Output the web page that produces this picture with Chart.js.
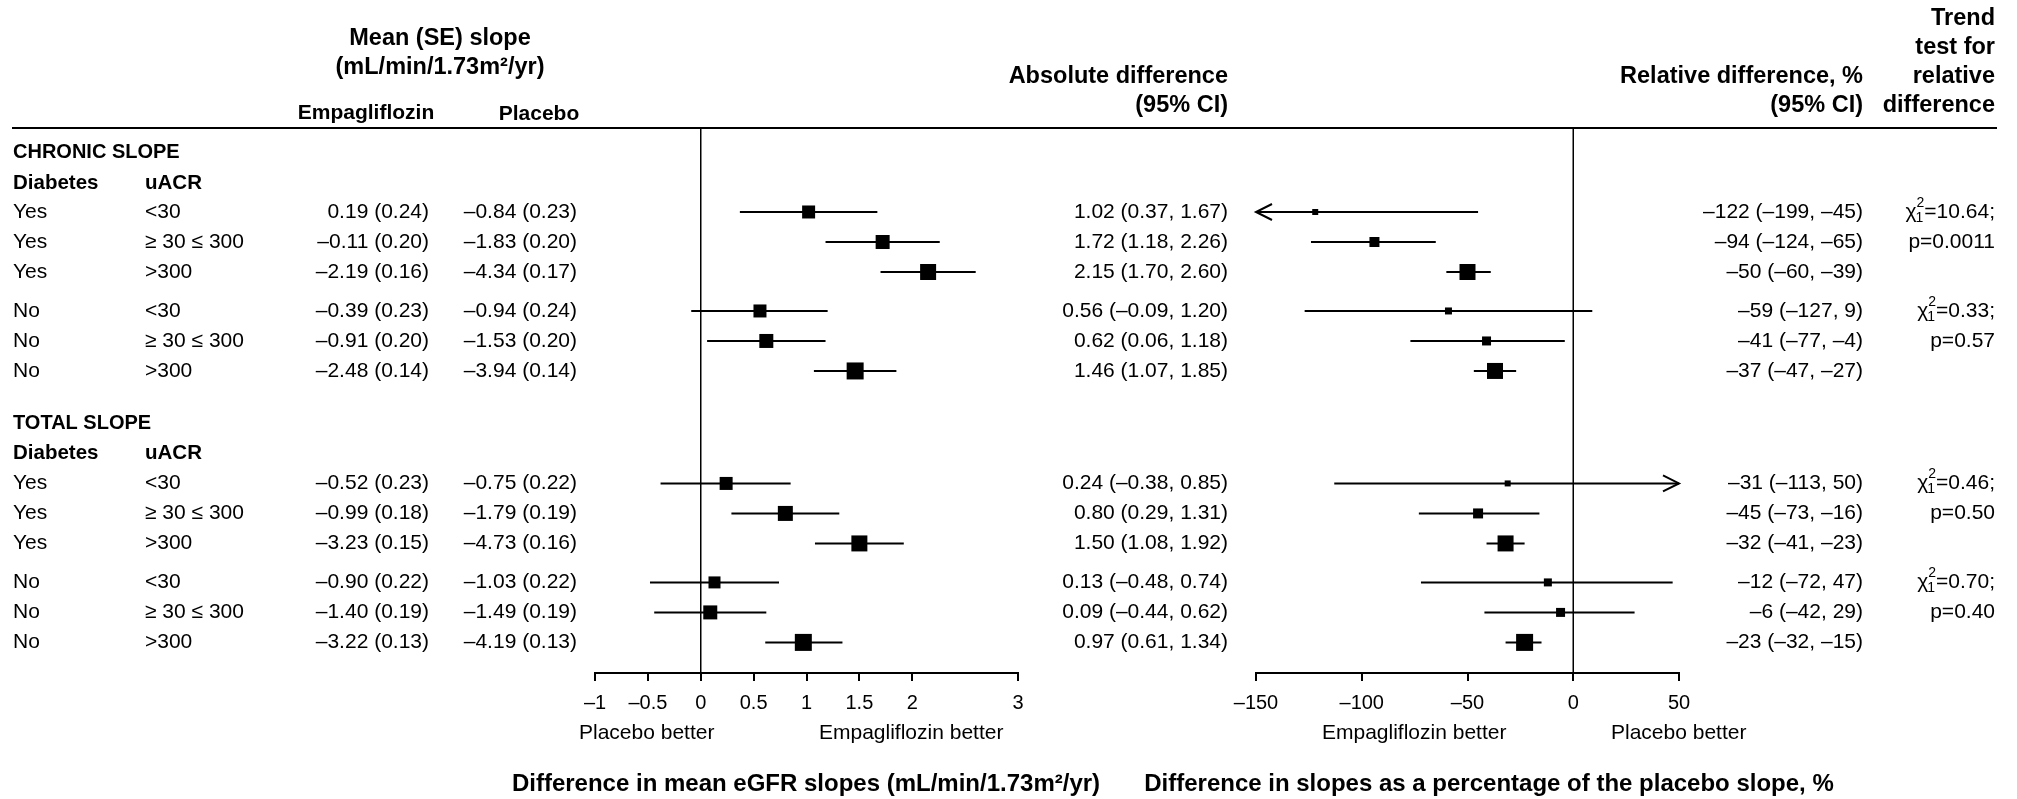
<!DOCTYPE html>
<html>
<head>
<meta charset="utf-8">
<script src="https://cdn.jsdelivr.net/npm/chart.js@4.4.0/dist/chart.umd.min.js"></script>
<style>
  html, body { margin: 0; padding: 0; background: #fff; }
  #wrap { position: relative; width: 2017px; height: 799px; overflow: hidden; }
  #absChart { position: absolute; left: 0; top: 0; }
  #relChart { position: absolute; left: 1100px; top: 0; }
</style>
</head>
<body>
<div id="wrap">
  <canvas id="absChart" width="1240" height="799"></canvas>
  <canvas id="relChart" width="917" height="799"></canvas>
</div>
<script>
const FONT = '"Liberation Sans", Arial, sans-serif';

// rows: chronic slope (0-5), total slope (6-11)
const diabetes = ['Yes', 'Yes', 'Yes', 'No', 'No', 'No', 'Yes', 'Yes', 'Yes', 'No', 'No', 'No'];
const uacr = ['<30', '≥ 30 ≤ 300', '>300', '<30', '≥ 30 ≤ 300', '>300',
              '<30', '≥ 30 ≤ 300', '>300', '<30', '≥ 30 ≤ 300', '>300'];
const empaMean = [0.19, -0.11, -2.19, -0.39, -0.91, -2.48, -0.52, -0.99, -3.23, -0.90, -1.40, -3.22];
const empaSE = [0.24, 0.20, 0.16, 0.23, 0.20, 0.14, 0.23, 0.18, 0.15, 0.22, 0.19, 0.13];
const placMean = [-0.84, -1.83, -4.34, -0.94, -1.53, -3.94, -0.75, -1.79, -4.73, -1.03, -1.49, -4.19];
const placSE = [0.23, 0.20, 0.17, 0.24, 0.20, 0.14, 0.22, 0.19, 0.16, 0.22, 0.19, 0.13];
const absEst = [1.02, 1.72, 2.15, 0.56, 0.62, 1.46, 0.24, 0.80, 1.50, 0.13, 0.09, 0.97];
const absLo = [0.37, 1.18, 1.70, -0.09, 0.06, 1.07, -0.38, 0.29, 1.08, -0.48, -0.44, 0.61];
const absHi = [1.67, 2.26, 2.60, 1.20, 1.18, 1.85, 0.85, 1.31, 1.92, 0.74, 0.62, 1.34];
const relEst = [-122, -94, -50, -59, -41, -37, -31, -45, -32, -12, -6, -23];
const relLo = [-199, -124, -60, -127, -77, -47, -113, -73, -41, -72, -42, -32];
const relHi = [-45, -65, -39, 9, -4, -27, 50, -16, -23, 47, 29, -15];
const trendRow = [0, 3, 6, 9];
const trendChi = ['10.64', '0.33', '0.46', '0.70'];
const trendP = ['0.0011', '0.57', '0.50', '0.40'];
const absTicks = [-1, -0.5, 0, 0.5, 1, 1.5, 2, 3];
const relTicks = [-150, -100, -50, 0, 50];

// layout / style
const rowSlot = [0, 1, 2, 3.3, 4.3, 5.3, 9.05, 10.05, 11.05, 12.35, 13.35, 14.35];
const absBox = [13, 14, 16, 13, 14, 17, 13, 15, 16, 12, 14, 17];
const relBox = [6, 10, 16, 7, 9, 16, 6, 10, 16, 8, 9, 17];
const REL_OFF = 1100;
const BODY = 21, HEAD = 23.5, TITLE = 24;

function fmt(v, d) {
  const s = d === undefined ? String(Math.abs(v)) : Math.abs(v).toFixed(d);
  return (v < 0 ? '–' : '') + s;
}

function txt(ctx, s, x, y, align, bold, size) {
  ctx.font = (bold ? 'bold ' : '') + (size || BODY) + 'px ' + FONT;
  ctx.textAlign = align;
  ctx.textBaseline = 'middle';
  ctx.fillStyle = '#000';
  ctx.fillText(s, x, y);
}

function drawChi(ctx, chi, right, yy) {
  ctx.textBaseline = 'middle';
  ctx.fillStyle = '#000';
  ctx.font = BODY + 'px ' + FONT;
  const rest = '=' + chi + ';';
  const w1 = ctx.measureText('χ').width;
  const w3 = ctx.measureText(rest).width;
  ctx.font = '14px ' + FONT;
  const w2 = ctx.measureText('2').width;
  const x0 = right - w1 - w2 - w3;
  ctx.textAlign = 'left';
  ctx.font = BODY + 'px ' + FONT;
  ctx.fillText('χ', x0, yy);
  ctx.font = '14px ' + FONT;
  ctx.fillText('2', x0 + w1, yy - 9);
  ctx.fillText('1', x0 + w1 - 1, yy + 6);
  ctx.font = BODY + 'px ' + FONT;
  ctx.fillText(rest, x0 + w1 + w2, yy);
}

function zeroLine(chart) {
  const ctx = chart.ctx, a = chart.chartArea;
  const x0 = chart.scales.x.getPixelForValue(0);
  ctx.save();
  ctx.strokeStyle = '#000';
  ctx.lineWidth = 1.5;
  ctx.beginPath();
  ctx.moveTo(x0, a.top);
  ctx.lineTo(x0, a.bottom);
  ctx.stroke();
  ctx.restore();
}

function headerRule(chart, from, to) {
  const ctx = chart.ctx;
  ctx.save();
  ctx.strokeStyle = '#000';
  ctx.lineWidth = 2;
  ctx.beginPath();
  ctx.moveTo(from, chart.chartArea.top);
  ctx.lineTo(to, chart.chartArea.top);
  ctx.stroke();
  ctx.restore();
}

const absPlugin = {
  id: 'absText',
  beforeDatasetsDraw(chart) { zeroLine(chart); },
  afterDraw(chart) {
    const ctx = chart.ctx, ys = chart.scales.y;
    ctx.save();
    headerRule(chart, 12, chart.width);
    txt(ctx, 'Mean (SE) slope', 440, 39, 'center', true, HEAD);
    txt(ctx, '(mL/min/1.73m²/yr)', 440, 68, 'center', true, HEAD);
    txt(ctx, 'Empagliflozin', 366, 113, 'center', true, 21);
    txt(ctx, 'Placebo', 539, 114, 'center', true, 21);
    txt(ctx, 'Absolute difference', 1228, 77, 'right', true, HEAD);
    txt(ctx, '(95% CI)', 1228, 106, 'right', true, HEAD);

    [['CHRONIC SLOPE', -2, -0.97], ['TOTAL SLOPE', 7.05, 8.05]].forEach(([t, s1, s2]) => {
      txt(ctx, t, 13, ys.getPixelForValue(s1), 'left', true, 20);
      txt(ctx, 'Diabetes', 13, ys.getPixelForValue(s2), 'left', true, 20.5);
      txt(ctx, 'uACR', 145, ys.getPixelForValue(s2), 'left', true, 20.5);
    });

    rowSlot.forEach((s, i) => {
      const yy = ys.getPixelForValue(s);
      txt(ctx, diabetes[i], 13, yy, 'left');
      txt(ctx, uacr[i], 145, yy, 'left');
      txt(ctx, fmt(empaMean[i], 2) + ' (' + empaSE[i].toFixed(2) + ')', 429, yy, 'right');
      txt(ctx, fmt(placMean[i], 2) + ' (' + placSE[i].toFixed(2) + ')', 577, yy, 'right');
      txt(ctx, fmt(absEst[i], 2) + ' (' + fmt(absLo[i], 2) + ', ' + fmt(absHi[i], 2) + ')', 1228, yy, 'right');
    });

    txt(ctx, 'Placebo better', 579, 733, 'left');
    txt(ctx, 'Empagliflozin better', 819, 733, 'left');
    txt(ctx, 'Difference in mean eGFR slopes (mL/min/1.73m²/yr)', 806, 784, 'center', true, TITLE);
    ctx.restore();
  }
};

const relPlugin = {
  id: 'relText',
  beforeDatasetsDraw(chart) { zeroLine(chart); },
  afterDatasetsDraw(chart) {
    // arrows where the CI runs past the axis
    const ctx = chart.ctx, xs = chart.scales.x, ys = chart.scales.y;
    ctx.save();
    ctx.strokeStyle = '#000';
    ctx.lineWidth = 2;
    rowSlot.forEach((s, i) => {
      const yy = ys.getPixelForValue(s);
      if (relLo[i] <= xs.min) {
        const xt = xs.getPixelForValue(xs.min);
        ctx.beginPath();
        ctx.moveTo(xt + 16, yy - 8); ctx.lineTo(xt, yy); ctx.lineTo(xt + 16, yy + 8);
        ctx.stroke();
      }
      if (relHi[i] >= xs.max) {
        const xt = xs.getPixelForValue(xs.max);
        ctx.beginPath();
        ctx.moveTo(xt - 16, yy - 8); ctx.lineTo(xt, yy); ctx.lineTo(xt - 16, yy + 8);
        ctx.stroke();
      }
    });
    ctx.restore();
  },
  afterDraw(chart) {
    const ctx = chart.ctx, ys = chart.scales.y, o = REL_OFF;
    ctx.save();
    headerRule(chart, 1240 - o, 1997 - o);
    txt(ctx, 'Relative difference, %', 1863 - o, 77, 'right', true, HEAD);
    txt(ctx, '(95% CI)', 1863 - o, 106, 'right', true, HEAD);
    ['Trend', 'test for', 'relative', 'difference'].forEach((t, k) => {
      txt(ctx, t, 1995 - o, [19, 48, 77, 106][k], 'right', true, HEAD);
    });
    rowSlot.forEach((s, i) => {
      const yy = ys.getPixelForValue(s);
      txt(ctx, fmt(relEst[i]) + ' (' + fmt(relLo[i]) + ', ' + fmt(relHi[i]) + ')', 1863 - o, yy, 'right');
    });
    trendRow.forEach((r, k) => {
      drawChi(ctx, trendChi[k], 1995 - o, ys.getPixelForValue(rowSlot[r]));
      txt(ctx, 'p=' + trendP[k], 1995 - o, ys.getPixelForValue(rowSlot[r + 1]), 'right');
    });
    txt(ctx, 'Empagliflozin better', 1322 - o, 733, 'left');
    txt(ctx, 'Placebo better', 1611 - o, 733, 'left');
    txt(ctx, 'Difference in slopes as a percentage of the placebo slope, %', 1489 - o, 784, 'center', true, TITLE);
    ctx.restore();
  }
};

function forest(id, est, lo, hi, box, tickVals, padL, padR, plugin) {
  const min = tickVals[0], max = tickVals[tickVals.length - 1];
  const squares = {
    data: est.map((v, i) => ({ x: v, y: rowSlot[i] })),
    pointStyle: 'rect',
    pointRadius: box.map(b => b / Math.SQRT2),
    backgroundColor: '#000',
    borderWidth: 0,
    order: -1
  };
  const cis = est.map((v, i) => ({
    data: [{ x: Math.max(lo[i], min), y: rowSlot[i] }, { x: Math.min(hi[i], max), y: rowSlot[i] }],
    showLine: true,
    borderColor: '#000',
    borderWidth: 2,
    pointRadius: 0
  }));
  return new Chart(document.getElementById(id), {
    type: 'scatter',
    data: { datasets: [squares, ...cis] },
    options: {
      responsive: false,
      animation: false,
      devicePixelRatio: 1,
      events: [],
      layout: { padding: { left: padL, right: padR, top: 128, bottom: 86 } },
      plugins: { legend: { display: false }, tooltip: { enabled: false } },
      scales: {
        x: {
          type: 'linear',
          min: min,
          max: max,
          afterBuildTicks: s => { s.ticks = tickVals.map(v => ({ value: v })); },
          afterFit: s => { s.height = 40; },
          ticks: {
            color: '#000',
            font: { size: 20, family: FONT },
            padding: 10,
            maxRotation: 0,
            autoSkip: false,
            callback: v => fmt(v)
          },
          grid: { drawOnChartArea: false, drawTicks: true, tickLength: 8, color: '#000', lineWidth: 2 },
          border: { display: true, color: '#000', width: 2 }
        },
        y: { type: 'linear', display: false, min: -2.8, max: 15.37, reverse: true, bounds: 'data' }
      }
    },
    plugins: [plugin]
  });
}

forest('absChart', absEst, absLo, absHi, absBox, absTicks, 595, 1240 - 1018, absPlugin);
forest('relChart', relEst, relLo, relHi, relBox, relTicks, 1256 - REL_OFF, 917 - (1679 - REL_OFF), relPlugin);
</script>
</body>
</html>
